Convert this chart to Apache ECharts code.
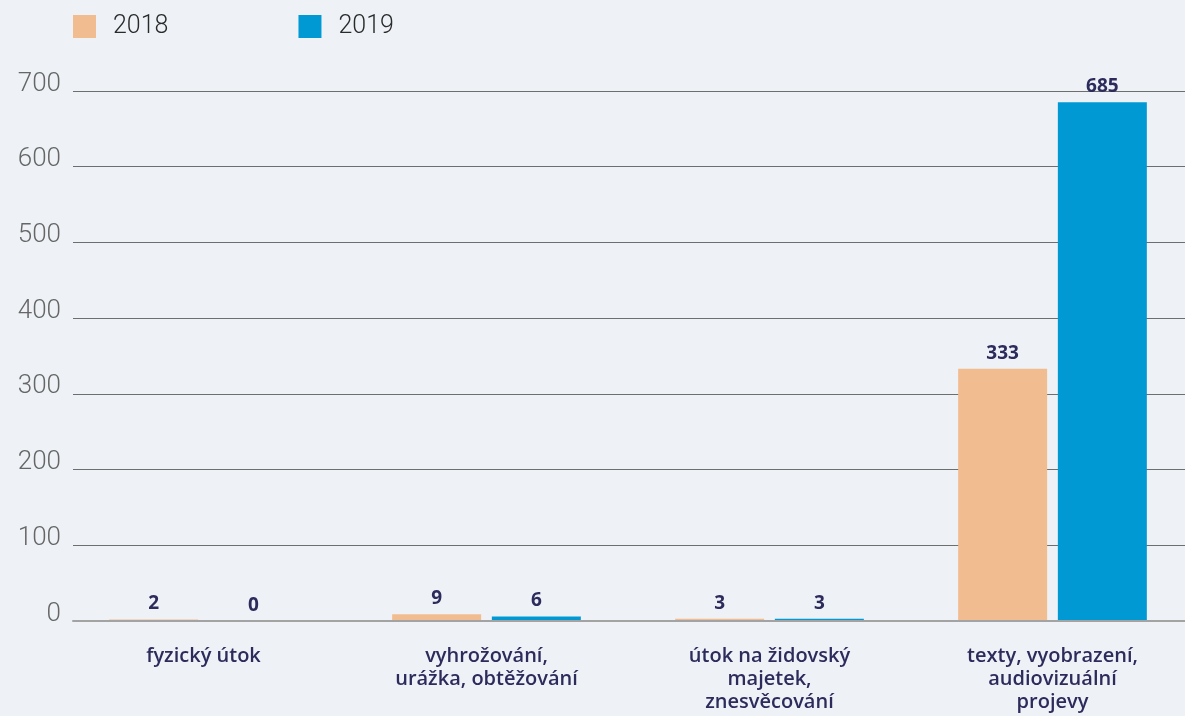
<!DOCTYPE html>
<html>
<head>
<meta charset="utf-8">
<script src="https://cdn.jsdelivr.net/npm/echarts@6/dist/echarts.min.js"></script>
<style>
html,body{margin:0;padding:0;background:#eef2f6;}
#chart{width:1185px;height:716px;}
</style>
</head>
<body>
<div id="chart"></div>
<script>
var categories = ['fyzický útok', 'vyhrožování,\nurážka, obtěžování', 'útok na židovský\nmajetek,\nznesvěcování', 'texty, vyobrazení,\naudiovizuální\nprojevy'];
var seriesNames = ['2018', '2019'];
var values2018 = [2, 9, 3, 333];
var values2019 = [0, 6, 3, 685];
var yTicks = [0, 100, 200, 300, 400, 500, 600, 700];

var colors = ['#f1bc8f', '#0099d4'];
var navy = '#2d2b5c';

var chart = echarts.init(document.getElementById('chart'), null, {renderer: 'canvas'});

function barSeries(name, data, color) {
  return {
    name: name,
    type: 'bar',
    xAxisIndex: 1,
    yAxisIndex: 1,
    data: data,
    barWidth: 89,
    barGap: '12%',
    itemStyle: {color: color},
    label: {
      show: true,
      position: 'top',
      distance: 6,
      color: navy,
      fontFamily: 'Open Sans',
      fontWeight: 700,
      fontSize: 19
    },
    z: 3
  };
}

chart.setOption({
  backgroundColor: '#eef2f6',
  animation: false,
  color: colors,
  legend: {
    left: 73,
    top: 14,
    padding: 0,
    itemWidth: 23,
    itemHeight: 23,
    itemGap: 130,
    icon: 'rect',
    textStyle: {fontFamily: 'Roboto', fontWeight: 300, fontSize: 25, color: '#2a2a2a', padding: [0, 0, 0, 12]},
    data: seriesNames
  },
  grid: [
    {left: 73, right: 0, top: 91, bottom: 95, outerBoundsMode: 'none'},
    {left: 62, width: 1132, top: 91, bottom: 95, outerBoundsMode: 'none'}
  ],
  xAxis: [
    {
      type: 'category', gridIndex: 0, data: categories,
      axisLine: {show: true, lineStyle: {color: '#a3a3a3', width: 2}},
      axisTick: {show: false}, axisLabel: {show: false}, splitLine: {show: false}, z: 4
    },
    {
      type: 'category', gridIndex: 1, data: categories,
      axisLine: {show: false}, axisTick: {show: false},
      axisLabel: {
        margin: 24, color: navy, fontFamily: 'Open Sans', fontWeight: 600,
        fontSize: 20, lineHeight: 23, align: 'center', interval: 0
      }
    }
  ],
  yAxis: [
    {
      type: 'value', gridIndex: 0, min: yTicks[0], max: yTicks[yTicks.length - 1], interval: 100,
      axisLine: {show: false}, axisTick: {show: false},
      axisLabel: {
        margin: 12, color: '#666666', fontFamily: 'Roboto', fontWeight: 300, fontSize: 26,
        verticalAlign: 'bottom', lineHeight: 14
      },
      splitLine: {show: true, lineStyle: {color: '#6e6e6e', width: 1}}
    },
    {
      type: 'value', gridIndex: 1, min: yTicks[0], max: yTicks[yTicks.length - 1], interval: 100,
      show: false, splitLine: {show: false}
    }
  ],
  series: [
    barSeries(seriesNames[0], values2018, colors[0]),
    barSeries(seriesNames[1], values2019, colors[1])
  ]
});
</script>
</body>
</html>
